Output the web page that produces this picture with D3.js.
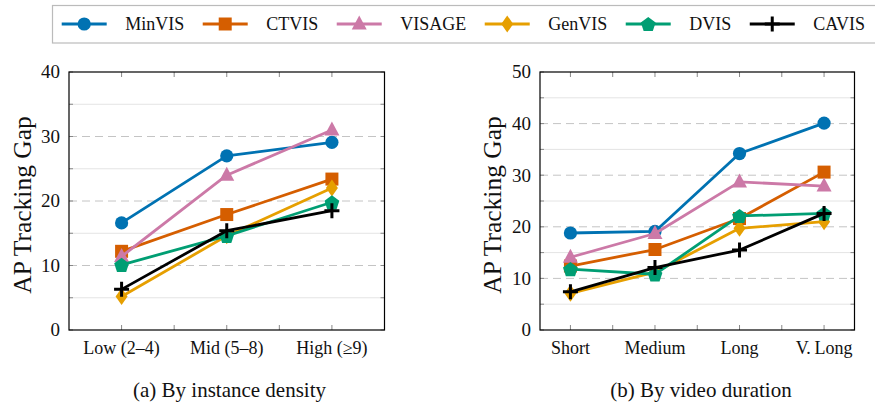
<!DOCTYPE html>
<html>
<head>
<meta charset="utf-8">
<script src="https://cdn.jsdelivr.net/npm/d3@7"></script>
<style>
  body { margin: 0; background: #fff; }
  svg { display: block; font-family: "Liberation Serif", "DejaVu Serif", serif; }
</style>
</head>
<body>
<svg id="chart" width="875" height="403"></svg>
<script>
// data
var methods = ["MinVIS", "CTVIS", "VISAGE", "GenVIS", "DVIS", "CAVIS"];
var colors = ["#0072B2", "#D55E00", "#CC79A7", "#E69F00", "#009E73", "#000000"];
var shapes = ["circle", "square", "triangle", "diamond", "pentagon", "plus"];

var densityCats = ["Low (2\u20134)", "Mid (5\u20138)", "High (\u22659)"];
var densityMinVIS = [16.6, 27.0, 29.1];
var densityCTVIS = [12.2, 17.9, 23.4];
var densityVISAGE = [11.4, 24.0, 31.0];
var densityGenVIS = [5.2, 14.6, 22.0];
var densityDVIS = [10.1, 14.6, 19.8];
var densityCAVIS = [6.3, 15.4, 18.5];

var durationCats = ["Short", "Medium", "Long", "V.\u2009Long"];
var durationMinVIS = [18.8, 19.1, 34.2, 40.1];
var durationCTVIS = [12.4, 15.6, 21.6, 30.6];
var durationVISAGE = [14.1, 18.7, 28.7, 27.9];
var durationGenVIS = [7.1, 11.2, 19.7, 21.0];
var durationDVIS = [11.8, 10.8, 22.1, 22.6];
var durationCAVIS = [7.4, 12.1, 15.5, 22.6];

var captionA = "(a) By instance density";
var captionB = "(b) By video duration";
var yTitle = "AP Tracking Gap";

var svg = d3.select("#chart");

// marker paths
function markerPath(shape) {
  if (shape == "circle") return d3.symbol().type(d3.symbolCircle).size(Math.PI * 6.6 * 6.6)();
  if (shape == "square") return "M-6.5,-6.5H6.5V6.5H-6.5Z";
  if (shape == "triangle") return "M0,-8.5L7.5,5.5L-7.5,5.5Z";
  if (shape == "diamond") return "M0,-8.5L6,0L0,8.5L-6,0Z";
  if (shape == "pentagon") {
    var pts = [];
    for (var i = 0; i < 5; i++) {
      var a = -Math.PI / 2 + i * 2 * Math.PI / 5;
      pts.push([7.8 * Math.cos(a), 7.8 * Math.sin(a) + 0.8]);
    }
    return "M" + pts.join("L") + "Z";
  }
  return "M-7.5,0H7.5M0,-7.5V7.5";
}

function drawMarker(g, shape, color, x, y) {
  var p = g.append("path")
    .attr("d", markerPath(shape))
    .attr("transform", "translate(" + x + "," + y + ")");
  if (shape == "plus") {
    p.attr("fill", "none").attr("stroke", color).attr("stroke-width", 3);
  } else {
    p.attr("fill", color).attr("stroke", "none");
  }
}

function drawPanel(cfg) {
  var g = svg.append("g");
  var x = d3.scalePoint().domain(cfg.cats).range([cfg.left, cfg.right]).padding(cfg.pad);
  var y = d3.scaleLinear().domain([0, cfg.ymax]).range([cfg.bottom, cfg.top]);
  var step = x.step();

  // grid
  var fives = d3.range(5, cfg.ymax, 5);
  g.selectAll(".grid").data(fives).enter().append("line")
    .attr("x1", cfg.left).attr("x2", cfg.right)
    .attr("y1", function (d) { return y(d); }).attr("y2", function (d) { return y(d); })
    .attr("stroke", function (d) { return d % 10 == 0 ? "#c4c4c4" : "#e4e4e4"; })
    .attr("stroke-width", 1)
    .attr("stroke-dasharray", function (d) { return d % 10 == 0 ? "8,5" : null; });

  // y ticks, both sides, inward
  var yt = d3.range(0, cfg.ymax + 1, 5);
  yt.forEach(function (v) {
    g.append("line").attr("x1", cfg.left).attr("x2", cfg.left + 4)
      .attr("y1", y(v)).attr("y2", y(v)).attr("stroke", "#888");
    g.append("line").attr("x1", cfg.right).attr("x2", cfg.right - 4)
      .attr("y1", y(v)).attr("y2", y(v)).attr("stroke", "#888");
  });

  // x ticks at categories and midpoints, top and bottom
  var xt = [];
  cfg.cats.forEach(function (c, i) {
    xt.push(x(c));
    if (i < cfg.cats.length - 1) xt.push(x(c) + step / 2);
  });
  xt.forEach(function (v) {
    g.append("line").attr("x1", v).attr("x2", v)
      .attr("y1", cfg.bottom).attr("y2", cfg.bottom - 5).attr("stroke", "#888");
    g.append("line").attr("x1", v).attr("x2", v)
      .attr("y1", cfg.top).attr("y2", cfg.top + 5).attr("stroke", "#888");
  });

  // frame
  g.append("rect").attr("x", cfg.left).attr("y", cfg.top)
    .attr("width", cfg.right - cfg.left).attr("height", cfg.bottom - cfg.top)
    .attr("fill", "none").attr("stroke", "#000").attr("stroke-width", 1.2);

  // y labels
  g.selectAll(".ylab").data(d3.range(0, cfg.ymax + 1, 10)).enter().append("text")
    .attr("x", cfg.left - 9).attr("y", function (d) { return y(d); })
    .attr("dy", "0.34em").attr("text-anchor", "end")
    .attr("font-size", 19).attr("fill", "#111")
    .text(function (d) { return d; });

  // x labels
  g.selectAll(".xlab").data(cfg.cats).enter().append("text")
    .attr("x", function (d) { return x(d); }).attr("y", cfg.bottom + 23.5)
    .attr("text-anchor", "middle").attr("font-size", 18).attr("fill", "#111")
    .text(function (d) { return d; });

  // y title
  g.append("text")
    .attr("transform", "translate(" + cfg.titleX + "," + ((cfg.top + cfg.bottom) / 2 + 4) + ") rotate(-90)")
    .attr("text-anchor", "middle").attr("font-size", 25.5).attr("fill", "#111")
    .text(yTitle);

  // caption
  g.append("text")
    .attr("x", cfg.capX).attr("y", 397)
    .attr("text-anchor", "middle").attr("font-size", 21).attr("fill", "#111")
    .text(cfg.caption);

  // series
  var line = d3.line().x(function (d) { return x(d.c); }).y(function (d) { return y(d.v); });
  cfg.series.forEach(function (vals, k) {
    var pts = vals.map(function (v, i) { return { c: cfg.cats[i], v: v }; });
    g.append("path").datum(pts).attr("d", line)
      .attr("fill", "none").attr("stroke", colors[k]).attr("stroke-width", 2.8)
      .attr("stroke-linejoin", "round");
    pts.forEach(function (p) {
      drawMarker(g, shapes[k], colors[k], x(p.c), y(p.v));
    });
  });
}

drawPanel({
  cats: densityCats, left: 69, right: 384.5, top: 72, bottom: 330, pad: 0.5, ymax: 40,
  titleX: 31, capX: 229.5, caption: captionA,
  series: [densityMinVIS, densityCTVIS, densityVISAGE, densityGenVIS, densityDVIS, densityCAVIS]
});
drawPanel({
  cats: durationCats, left: 540, right: 854.5, top: 72, bottom: 330, pad: 0.36, ymax: 50,
  titleX: 501, capX: 701, caption: captionB,
  series: [durationMinVIS, durationCTVIS, durationVISAGE, durationGenVIS, durationDVIS, durationCAVIS]
});

// legend
var lg = svg.append("g");
lg.append("rect").attr("x", 52.5).attr("y", 5.5).attr("width", 830).attr("height", 37.5)
  .attr("fill", "#fff").attr("stroke", "#bbb").attr("stroke-width", 1.2);
var lx = 61.7;
methods.forEach(function (m, k) {
  lg.append("line").attr("x1", lx).attr("x2", lx + 45).attr("y1", 24).attr("y2", 24)
    .attr("stroke", colors[k]).attr("stroke-width", 2.8);
  drawMarker(lg, shapes[k], colors[k], lx + 22.5, 24);
  var t = lg.append("text").attr("x", lx + 63.5).attr("y", 30)
    .attr("font-size", 18).attr("fill", "#111").text(m);
  lx = lx + 63.5 + t.node().getComputedTextLength() + 18.5;
});
</script>
</body>
</html>
